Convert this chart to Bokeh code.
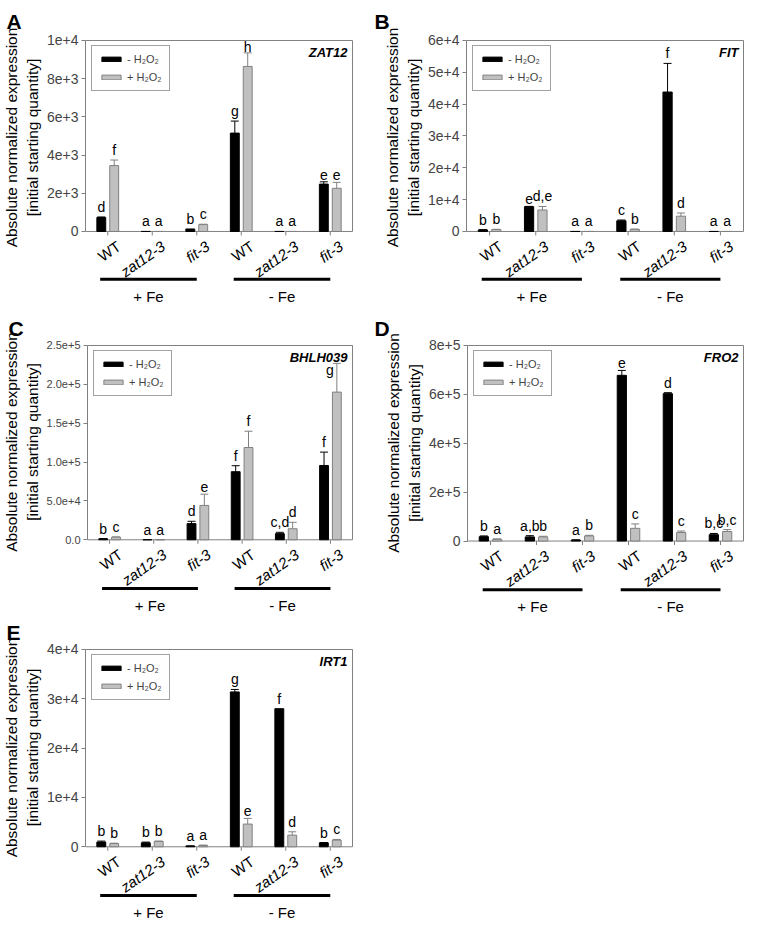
import math
import numpy as np
from bokeh.plotting import figure
from bokeh.models import (Range1d, FixedTicker, ColumnDataSource, Whisker, TeeHead,
                          Legend, LegendItem, Title)
from bokeh.layouts import column, row
from bokeh.core.properties import value
from bokeh.embed import file_html
from bokeh.resources import INLINE

# ---------------- data ----------------
genotypes = ["WT", "zat12-3", "fit-3", "WT", "zat12-3", "fit-3"]
genotype_italic = [False, True, True, False, True, True]
fe_conditions = ["+ Fe", "- Fe"]
fe_members = [[0, 1, 2], [3, 4, 5]]
treatments = ["- H\u2082O\u2082", "+ H\u2082O\u2082"]
y_title_lines = ["Absolute normalized expression", "[initial starting quantity]"]

# A - ZAT12
zat12_minus = [730, 0, 130, 5150, 0, 2480]
zat12_minus_se = [30, 0, 0, 630, 0, 120]
zat12_plus = [3450, 0, 360, 8640, 0, 2260]
zat12_plus_se = [290, 0, 20, 710, 0, 310]
zat12_minus_letters = ["d", "a", "b", "g", "a", "e"]
zat12_plus_letters = ["f", "a", "c", "h", "a", "e"]
zat12_ticks = [0, 2000, 4000, 6000, 8000, 10000]
zat12_tick_labels = ["0", "2e+3", "4e+3", "6e+3", "8e+3", "1e+4"]

# B - FIT
fit_minus = [500, 7800, 0, 3350, 43800, 0]
fit_minus_se = [60, 80, 0, 250, 9000, 0]
fit_plus = [600, 6750, 0, 650, 4800, 0]
fit_plus_se = [80, 1100, 0, 100, 1000, 0]
fit_minus_letters = ["b", "e", "a", "c", "f", "a"]
fit_plus_letters = ["b", "d,e", "a", "b", "d", "a"]
fit_ticks = [0, 10000, 20000, 30000, 40000, 50000, 60000]
fit_tick_labels = ["0", "1e+4", "2e+4", "3e+4", "4e+4", "5e+4", "6e+4"]

# C - BHLH039
bhlh_minus = [1200, 0, 20800, 87600, 7900, 95600]
bhlh_minus_se = [300, 0, 3000, 7700, 1700, 17200]
bhlh_plus = [3300, 0, 44200, 118700, 14200, 190000]
bhlh_plus_se = [450, 0, 14500, 21000, 8300, 37000]
bhlh_minus_letters = ["b", "a", "d", "f", "c,d", "f"]
bhlh_plus_letters = ["c", "a", "e", "f", "d", "g"]
bhlh_ticks = [0, 50000, 100000, 150000, 200000, 250000]
bhlh_tick_labels = ["0.0", "5.0e+4", "1.0e+5", "1.5e+5", "2.0e+5", "2.5e+5"]

# D - FRO2
fro2_minus = [18000, 17000, 4000, 678000, 603000, 26000]
fro2_minus_se = [3000, 5000, 1000, 20000, 4000, 5000]
fro2_plus = [7000, 17000, 21000, 52000, 35000, 39000]
fro2_plus_se = [2000, 2500, 2500, 18000, 6000, 8000]
fro2_minus_letters = ["b", "a,b", "a", "e", "d", "b,c"]
fro2_plus_letters = ["a", "b", "b", "c", "c", "b,c"]
fro2_ticks = [0, 200000, 400000, 600000, 800000]
fro2_tick_labels = ["0", "2e+5", "4e+5", "6e+5", "8e+5"]

# E - IRT1
irt1_minus = [950, 800, 150, 31400, 28000, 800]
irt1_minus_se = [200, 150, 30, 500, 0, 50]
irt1_plus = [650, 1080, 270, 4600, 2370, 1350]
irt1_plus_se = [80, 80, 70, 1150, 670, 140]
irt1_minus_letters = ["b", "b", "a", "g", "f", "b"]
irt1_plus_letters = ["b", "b", "a", "e", "d", "c"]
irt1_ticks = [0, 10000, 20000, 30000, 40000]
irt1_tick_labels = ["0", "1e+4", "2e+4", "3e+4", "4e+4"]

# ---------------- style ----------------
FONT = "Liberation Sans"
BLACK = "#000000"
GRAY_FILL = "#c0c0c0"
GRAY_LINE = "#808080"
FRAME = "#808080"
YLAB_PX = 15.5
# Arial / Liberation Sans advance widths (per 1000 em) for the y-title characters
_W = {" ": 278, "[": 278, "]": 278, "A": 667, "a": 556, "b": 556, "d": 556, "e": 556,
      "g": 556, "i": 222, "l": 222, "m": 833, "n": 556, "o": 556, "p": 556, "q": 556,
      "r": 333, "s": 500, "t": 278, "u": 556, "x": 500, "y": 500, "z": 500}


def text_len(s, px):
    return sum(_W.get(c, 556) for c in s) / 1000.0 * px


def make_panel(letter, gene, minus, minus_se, plus, plus_se, m_letters, p_letters,
               ticks, tick_labels, W, H, left, right, top, zero_px, tick_fs,
               title_standoff=9, letter_override=None):
    n = len(genotypes)
    ymax = ticks[-1]
    fh = H - top
    fw = W - left - right
    k = zero_px / ymax          # pixels per data unit
    gpx = fw / n
    x_range = Range1d(0, n + 1.0 / gpx)
    y_range = Range1d(-(fh - zero_px) / k, ymax + 1.0 / k)

    p = figure(width=W, height=H, x_range=x_range, y_range=y_range,
               output_backend="svg", toolbar_location=None,
               min_border_left=left, min_border_right=right,
               min_border_top=top, min_border_bottom=0,
               outline_line_color=None)
    p.xaxis.visible = False
    p.xgrid.visible = False
    p.ygrid.visible = False

    ax = p.yaxis[0]
    ax.ticker = FixedTicker(ticks=ticks)
    ax.major_label_overrides = {t: s for t, s in zip(ticks, tick_labels)}
    ax.bounds = (0, ymax)
    ax.axis_line_color = FRAME
    ax.major_tick_line_color = FRAME
    ax.major_tick_out = 4
    ax.major_tick_in = 0
    ax.minor_tick_line_color = None
    ax.major_label_text_font = FONT
    ax.major_label_text_font_size = tick_fs
    ax.major_label_standoff = 3

    # two-line y title, centred on the 0..ymax box
    for line, so in ((y_title_lines[1], 5), (y_title_lines[0], 0)):
        L = text_len(line, YLAB_PX)
        p.add_layout(Title(text=line, align="right", offset=zero_px / 2 - L / 2,
                           standoff=so, text_font=FONT,
                           text_font_size=f"{YLAB_PX}px", text_font_style="normal",
                           text_color=BLACK), "left")

    centers = np.arange(n) + 0.5
    off, bw = 0.145, 0.2

    # plot box and x ticks
    p.quad(left=0, right=n, bottom=0, top=ymax, fill_color=None,
           line_color=FRAME, line_width=1)
    p.ray(x=centers, y=[0] * n, length=4, angle=-math.pi / 2,
          length_units="screen", line_color=FRAME, line_width=1)

    renderers = []
    for vals, ses, labs, dx, fill, line, key in (
            (minus, minus_se, m_letters, -off, BLACK, BLACK, "minus"),
            (plus, plus_se, p_letters, off, GRAY_FILL, GRAY_LINE, "plus")):
        xs = centers + dx
        src = ColumnDataSource(dict(x=xs, top=vals))
        r = p.vbar(x="x", top="top", bottom=0, width=bw, source=src,
                   fill_color=fill, line_color=line, line_width=1)
        renderers.append(r)
        wx = [x for x, s in zip(xs, ses) if s > 0]
        wl = [v for v, s in zip(vals, ses) if s > 0]
        wu = [v + s for v, s in zip(vals, ses) if s > 0]
        ws = ColumnDataSource(dict(x=wx, lower=wl, upper=wu))
        p.add_layout(Whisker(base="x", lower="lower", upper="upper", source=ws,
                             dimension="height", line_color=line, line_width=1,
                             upper_head=TeeHead(size=8, line_color=line, line_width=1),
                             lower_head=None))
        ly = [v + s for v, s in zip(vals, ses)]
        lx_off = [0] * n
        if letter_override:
            for (kk, idx), (yy, dxx) in letter_override.items():
                if kk == key:
                    ly[idx] = yy
                    lx_off[idx] = dxx
        ls = ColumnDataSource(dict(x=xs, y=ly, t=labs, xo=lx_off))
        p.text(x="x", y="y", text="t", x_offset="xo", y_offset=-2, source=ls,
               text_align="center", text_baseline="bottom",
               text_font=value(FONT), text_font_size="14px", text_color=BLACK)

    # gene name
    p.text(x=[n], y=[ymax], text=[gene], x_offset=-5, y_offset=5,
           text_align="right", text_baseline="top", text_font=value(FONT),
           text_font_size="13px", text_font_style="bold italic", text_color=BLACK)

    # genotype labels (rotated)
    ang = math.radians(35)
    for ital in (False, True):
        xs = [c for c, it in zip(centers, genotype_italic) if it == ital]
        ts = [g for g, it in zip(genotypes, genotype_italic) if it == ital]
        p.text(x=xs, y=[0] * len(xs), text=ts, angle=ang, x_offset=11, y_offset=13,
               text_align="right", text_baseline="middle", text_font=value(FONT),
               text_font_size="15px", text_font_style="italic" if ital else "normal",
               text_color=BLACK)

    # Fe condition brackets
    yb = -49 / k
    for cond, mem in zip(fe_conditions, fe_members):
        x0 = centers[mem[0]] - 0.17
        x1 = centers[mem[-1]]
        p.segment(x0=[x0], y0=[yb], x1=[x1], y1=[yb], line_color=BLACK, line_width=3)
        p.text(x=[(x0 + x1) / 2], y=[yb], text=[cond], y_offset=17,
               text_align="center", text_baseline="middle", text_font=value(FONT),
               text_font_size="15px", text_color=BLACK)

    legend = Legend(items=[LegendItem(label=treatments[0], renderers=[renderers[0]]),
                           LegendItem(label=treatments[1], renderers=[renderers[1]])],
                    location="top_left", margin=6, padding=7, spacing=6,
                    label_height=11, glyph_height=6, glyph_width=24, label_standoff=4,
                    border_line_color="#444444", border_line_width=1,
                    background_fill_color="white", label_text_font=FONT,
                    label_text_font_size="11px")
    p.add_layout(legend)

    p.title = Title(text=letter, align="left", offset=-(left - 1), standoff=title_standoff,
                    text_font=FONT, text_font_size="21px", text_font_style="bold",
                    text_color=BLACK)
    return p


pA = make_panel("A", "ZAT12", zat12_minus, zat12_minus_se, zat12_plus, zat12_plus_se,
                zat12_minus_letters, zat12_plus_letters, zat12_ticks, zat12_tick_labels,
                373, 306, 80, 20, 33, 196, "14px", title_standoff=14,
                letter_override={("plus", 3): (9150, 0)})
pB = make_panel("B", "FIT", fit_minus, fit_minus_se, fit_plus, fit_plus_se,
                fit_minus_letters, fit_plus_letters, fit_ticks, fit_tick_labels,
                373, 306, 93, 2, 33, 196, "14px", title_standoff=14)
pC = make_panel("C", "BHLH039", bhlh_minus, bhlh_minus_se, bhlh_plus, bhlh_plus_se,
                bhlh_minus_letters, bhlh_plus_letters, bhlh_ticks, bhlh_tick_labels,
                373, 308, 80, 20, 38, 195, "11px",
                letter_override={("plus", 5): (205000, -7)})
pD = make_panel("D", "FRO2", fro2_minus, fro2_minus_se, fro2_plus, fro2_plus_se,
                fro2_minus_letters, fro2_plus_letters, fro2_ticks, fro2_tick_labels,
                373, 308, 94, 2, 37, 197, "14px")
pE = make_panel("E", "IRT1", irt1_minus, irt1_minus_se, irt1_plus, irt1_plus_se,
                irt1_minus_letters, irt1_plus_letters, irt1_ticks, irt1_tick_labels,
                373, 308, 80, 20, 34, 198, "14px")

layout = column(row(pA, pB), row(pC, pD), pE)
open("out.html", "w").write(file_html(layout, INLINE))
